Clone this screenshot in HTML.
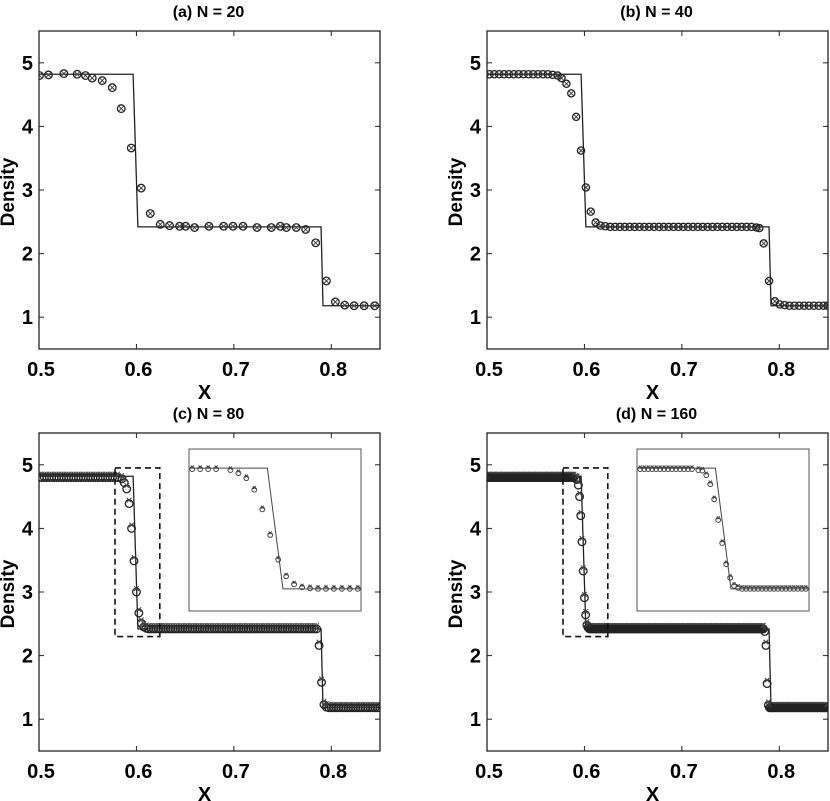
<!DOCTYPE html>
<html><head><meta charset="utf-8"><style>
html,body{margin:0;padding:0;background:#fff}
svg{display:block;font-family:"Liberation Sans",Arial,sans-serif}
</style></head><body>
<svg id="fig" width="830" height="801" viewBox="0 0 830 801" xmlns="http://www.w3.org/2000/svg"></svg>
<script>
// ---- data ----
const exactX = [0.5, 0.5966, 0.6015, 0.7895, 0.7915, 0.85];
const exactY = [4.82, 4.82, 2.42, 2.42, 1.18, 1.18];
const xTicks = [0.5, 0.6, 0.7, 0.8];
const xTickLabels = ["0.5", "0.6", "0.7", "0.8"];
const yTicks = [1, 2, 3, 4, 5];
const yTickLabels = ["1", "2", "3", "4", "5"];
const titles = ["(a) N = 20", "(b) N = 40", "(c) N = 80", "(d) N = 160"];

const aX = [0.5005,0.5097,0.5255,0.5392,0.5477,0.5546,0.5649,0.5752,0.5844,0.5947,0.6049,0.6142,0.6245,0.6340,0.6443,0.6505,0.6597,0.6744,0.6895,0.6991,0.7094,0.7238,0.7385,0.7477,0.7539,0.7641,0.7737,0.7840,0.7950,0.8042,0.8138,0.8234,0.8337,0.8446];
const aY = [4.80,4.81,4.83,4.82,4.80,4.76,4.72,4.61,4.28,3.66,3.03,2.63,2.46,2.44,2.43,2.43,2.41,2.43,2.43,2.43,2.43,2.41,2.41,2.43,2.41,2.41,2.38,2.17,1.57,1.24,1.19,1.18,1.18,1.18];

const bX = [0.5025,0.5075,0.5125,0.5175,0.5225,0.5275,0.5325,0.5375,0.5425,0.5475,0.5525,0.5575,0.5625,0.5675,0.5725,0.5765,0.5815,0.5865,0.5915,0.5965,0.6015,0.6065,0.6115,0.6165,0.6215,0.6265,0.6315,0.6365,0.6415,0.6465,0.6515,0.6565,0.6615,0.6665,0.6715,0.6765,0.6815,0.6865,0.6915,0.6965,0.7015,0.7065,0.7115,0.7165,0.7215,0.7265,0.7315,0.7365,0.7415,0.7465,0.7515,0.7565,0.7615,0.7665,0.7715,0.7765,0.7795,0.7840,0.7895,0.7955,0.8005,0.8055,0.8105,0.8155,0.8205,0.8255,0.8305,0.8355,0.8405,0.8455,0.8495];
const bY = [4.82,4.82,4.82,4.82,4.82,4.82,4.82,4.82,4.82,4.82,4.82,4.82,4.82,4.81,4.80,4.76,4.67,4.52,4.15,3.62,3.04,2.66,2.49,2.44,2.43,2.42,2.42,2.42,2.42,2.42,2.42,2.42,2.42,2.42,2.42,2.42,2.42,2.42,2.42,2.42,2.42,2.42,2.42,2.42,2.42,2.42,2.42,2.42,2.42,2.42,2.42,2.42,2.42,2.42,2.42,2.41,2.40,2.16,1.57,1.25,1.20,1.19,1.18,1.18,1.18,1.18,1.18,1.18,1.18,1.18,1.18];

const cStep = 0.0025;
const cPlateaus = [[0.5005, 0.5825, 4.80], [0.6125, 0.7850, 2.42], [0.7975, 0.8500, 1.18]];
const cX = [0.5850,0.5875,0.5900,0.5925,0.5950,0.5975,0.6000,0.6025,0.6050,0.6075,0.6100,0.7875,0.7900,0.7925,0.7950];
const cY = [4.78,4.72,4.62,4.39,4.00,3.49,3.00,2.67,2.51,2.45,2.43,2.16,1.58,1.23,1.19];

const dStep = 0.00125;
const dPlateaus = [[0.5005, 0.5900, 4.80], [0.6050, 0.7838, 2.42], [0.7913, 0.8500, 1.18]];
const dX = [0.59125,0.5925,0.59375,0.5950,0.59625,0.5975,0.59875,0.6000,0.60125,0.6025,0.60375,0.7850,0.78625,0.7875,0.78875,0.7900];
const dY = [4.78,4.77,4.68,4.50,4.20,3.79,3.33,2.91,2.64,2.48,2.44,2.38,2.16,1.56,1.22,1.18];

const zoomBox = [0.578, 0.624, 2.30, 4.95];
const insetDomX = [0.572, 0.626];
const insetDomY = [1.98, 5.2];

// ---- layout ----
const NS = "http://www.w3.org/2000/svg";
const svg = document.getElementById("fig");
const W = 341, H = 318;
const panels = [
  {ox: 39, oy: 31, name: "panel-a", xs: aX, ys: aY, r: 3.8, dense: false},
  {ox: 487, oy: 31, name: "panel-b", xs: bX, ys: bY, r: 3.6, dense: false},
  {ox: 39, oy: 433, name: "panel-c", step: cStep, pl: cPlateaus, xs: cX, ys: cY, r: 3.8, dense: true},
  {ox: 487, oy: 433, name: "panel-d", step: dStep, pl: dPlateaus, xs: dX, ys: dY, r: 3.8, dense: true}
];
function el(tag, attrs, parent) {
  const e = document.createElementNS(NS, tag);
  for (const k in attrs) e.setAttribute(k, attrs[k]);
  (parent || svg).appendChild(e);
  return e;
}
function marker(g, px, py, r, dense, small) {
  const c = el("circle", {cx: px, cy: py, r: r, fill: "none", stroke: small ? "#444" : "#222", "stroke-width": small ? 1 : 1.3}, g);
  
  
  const s = r * 0.6, dy = dense ? -r * 0.9 : 0;
  const x = el("path", {d: `M${px-s},${py+dy-s}L${px+s},${py+dy+s}M${px-s},${py+dy+s}L${px+s},${py+dy-s}`, stroke: "#444", "stroke-width": 1, fill: "none"}, g);
  
  
}
function pointsOf(p) {
  let X = [], Y = [];
  if (p.pl) {
    p.pl.forEach(seg => {
      for (let v = seg[0]; v <= seg[1] + 1e-9; v += p.step) { X.push(v); Y.push(seg[2]); }
    });
  }
  X = X.concat(p.xs); Y = Y.concat(p.ys);
  return [X, Y];
}
panels.forEach((p, i) => {
  const g = el("g", {});
  
  
  const sx = v => p.ox + (v - 0.5) / 0.35 * W;
  const sy = v => p.oy + (5.5 - v) / 5.0 * H;
  const cid = "clip" + i;
  const cp = el("clipPath", {id: cid}, g);
  el("rect", {x: p.ox, y: p.oy, width: W, height: H}, cp);
  const t = el("text", {x: p.ox + W / 2 - 1, y: p.oy - 14, "text-anchor": "middle", "font-size": 16, "font-weight": "bold"}, g);
  t.textContent = titles[i];
  
  
  const yl = el("text", {x: 0, y: 0, transform: `translate(${p.ox - 25},${p.oy + 161}) rotate(-90)`, "text-anchor": "middle", "font-size": 19, "font-weight": "bold"}, g);
  yl.textContent = "Density";
  
  
  const xl = el("text", {x: p.ox + W / 2 - 5, y: p.oy + H + 50, "text-anchor": "middle", "font-size": 20, "font-weight": "bold"}, g);
  xl.textContent = "X";
  
  
  xTicks.forEach((v, k) => {
    el("line", {x1: sx(v), x2: sx(v), y1: p.oy + H, y2: p.oy + H - 5, stroke: "#222"}, g);
    el("line", {x1: sx(v), x2: sx(v), y1: p.oy, y2: p.oy + 5, stroke: "#222"}, g);
    const tl = el("text", {x: sx(v) + 2, y: p.oy + H + 27, "text-anchor": "middle", "font-size": 20, "font-weight": "bold"}, g);
    tl.textContent = xTickLabels[k];
    
    
  });
  yTicks.forEach((v, k) => {
    el("line", {x1: p.ox, x2: p.ox + 5, y1: sy(v), y2: sy(v), stroke: "#222"}, g);
    el("line", {x1: p.ox + W, x2: p.ox + W - 5, y1: sy(v), y2: sy(v), stroke: "#222"}, g);
    const tl = el("text", {x: p.ox - 6, y: sy(v) + 7, "text-anchor": "end", "font-size": 20, "font-weight": "bold"}, g);
    tl.textContent = yTickLabels[k];
    
    
  });
  const body = el("g", {"clip-path": `url(#${cid})`}, g);
  const ex = el("polyline", {points: exactX.map((v, k) => sx(v) + "," + sy(exactY[k])).join(" "), fill: "none", stroke: "#222", "stroke-width": 1.3}, body);
  
  
  const [X, Y] = pointsOf(p);
  X.forEach((v, k) => marker(body, sx(v), sy(Y[k]), p.r, p.dense, false));
  const fr = el("rect", {x: p.ox, y: p.oy, width: W, height: H, fill: "none", stroke: "#222", "stroke-width": 1.3}, g);
  
  
  if (p.dense) {
    const zb = el("rect", {x: sx(zoomBox[0]), y: sy(zoomBox[3]), width: sx(zoomBox[1]) - sx(zoomBox[0]), height: sy(zoomBox[2]) - sy(zoomBox[3]), fill: "none", stroke: "#111", "stroke-width": 1.6, "stroke-dasharray": "6,4"}, g);
    
    
    const ix0 = p.ox + 150, iy0 = p.oy + 16, iw = 172, ih = 162;
    const ig = el("g", {}, g);
    
    
    const icid = "iclip" + i;
    const icp = el("clipPath", {id: icid}, ig);
    el("rect", {x: ix0, y: iy0, width: iw, height: ih}, icp);
    el("rect", {x: ix0, y: iy0, width: iw, height: ih, fill: "#fff", stroke: "none"}, ig);
    const ix = v => ix0 + (v - insetDomX[0]) / (insetDomX[1] - insetDomX[0]) * iw;
    const iy = v => iy0 + (insetDomY[1] - v) / (insetDomY[1] - insetDomY[0]) * ih;
    const ib = el("g", {"clip-path": `url(#${icid})`}, ig);
    const iex = el("polyline", {points: exactX.map((v, k) => ix(v) + "," + iy(exactY[k])).join(" "), fill: "none", stroke: "#444", "stroke-width": 1}, ib);
    
    
    X.forEach((v, k) => {
      if (v >= insetDomX[0] && v <= insetDomX[1]) marker(ib, ix(v), iy(Y[k]), 2.4, true, true);
    });
    el("rect", {x: ix0, y: iy0, width: iw, height: ih, fill: "none", stroke: "#555", "stroke-width": 1}, ig);
  }
});
</script>
</body></html>
